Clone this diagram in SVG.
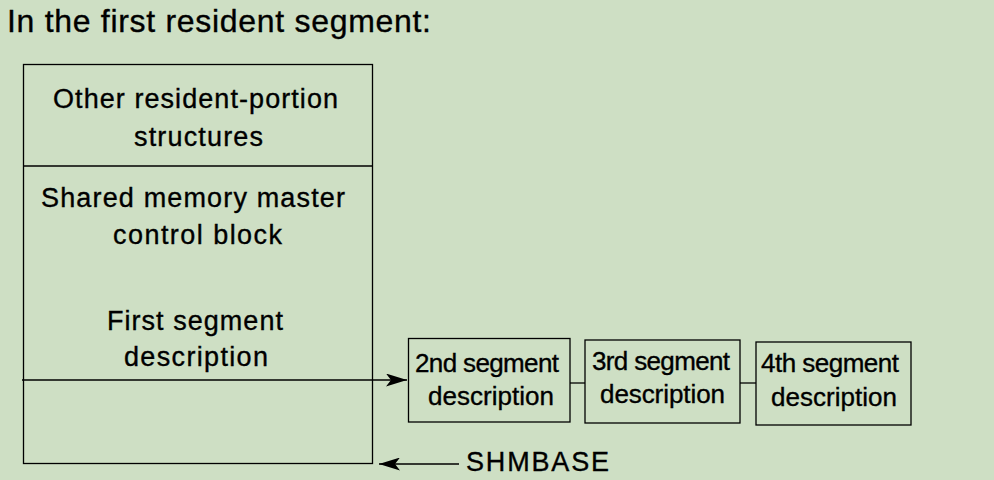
<svg xmlns="http://www.w3.org/2000/svg" width="994" height="480" viewBox="0 0 994 480">
<style>
.bg{fill:#cedfc4}
.box{fill:none;stroke:#000;stroke-width:1.3}
.ln{stroke:#000;stroke-width:1.3;fill:none}
.t{font-family:"Liberation Sans",Arial,sans-serif;fill:#000;stroke:#000;stroke-width:0.35}
.big{font-size:27px}
.sm{font-size:26px}
.title{font-size:32px}
.ah{fill:#000}
</style>
<defs>
<marker id="arr" viewBox="0 0 21 13" refX="21" refY="6.5" markerWidth="21" markerHeight="13" markerUnits="userSpaceOnUse" orient="auto">
<polygon class="ah" points="21,6.5 0,0 5,6.5 0,13"/>
</marker>
</defs>
<rect class="bg" x="0" y="0" width="994" height="480"/>
<text class="t title" x="7" y="32" textLength="424" lengthAdjust="spacing">In the first resident segment:</text>

<g id="resident-segment">
<rect class="box" x="23.5" y="64.5" width="349" height="399"/>
<line class="ln" x1="23.5" y1="166" x2="372.5" y2="166"/>
<text class="t big" x="53" y="108" textLength="285" lengthAdjust="spacing">Other resident-portion</text>
<text class="t big" x="134" y="146" textLength="129" lengthAdjust="spacing">structures</text>
<text class="t big" x="41" y="207" textLength="304" lengthAdjust="spacing">Shared memory master</text>
<text class="t big" x="113" y="244" textLength="169" lengthAdjust="spacing">control block</text>
<text class="t big" x="107" y="330" textLength="176" lengthAdjust="spacing">First segment</text>
<text class="t big" x="124" y="366" textLength="144" lengthAdjust="spacing">description</text>
</g>

<g id="seg2">
<rect class="box" x="408.5" y="338.5" width="161.5" height="83.5"/>
<text class="t sm" x="415" y="372" textLength="144" lengthAdjust="spacing">2nd segment</text>
<text class="t sm" x="428" y="405" textLength="126" lengthAdjust="spacing">description</text>
</g>

<g id="seg3">
<rect class="box" x="585" y="340" width="155" height="83"/>
<text class="t sm" x="592" y="370" textLength="138" lengthAdjust="spacing">3rd segment</text>
<text class="t sm" x="600" y="403" textLength="125" lengthAdjust="spacing">description</text>
</g>

<g id="seg4">
<rect class="box" x="756" y="342" width="155" height="83"/>
<text class="t sm" x="761" y="372" textLength="138" lengthAdjust="spacing">4th segment</text>
<text class="t sm" x="771" y="406" textLength="126" lengthAdjust="spacing">description</text>
</g>

<g id="shmbase">
<text class="t big" x="466" y="471" textLength="143" lengthAdjust="spacing">SHMBASE</text>
</g>

<g id="connectors">
<line class="ln" x1="22" y1="380" x2="407" y2="380" marker-end="url(#arr)"/>
<line class="ln" x1="570" y1="383" x2="585" y2="383"/>
<line class="ln" x1="740" y1="383" x2="756" y2="383"/>
<line class="ln" x1="459" y1="464" x2="379" y2="464" marker-end="url(#arr)"/>
</g>
</svg>
